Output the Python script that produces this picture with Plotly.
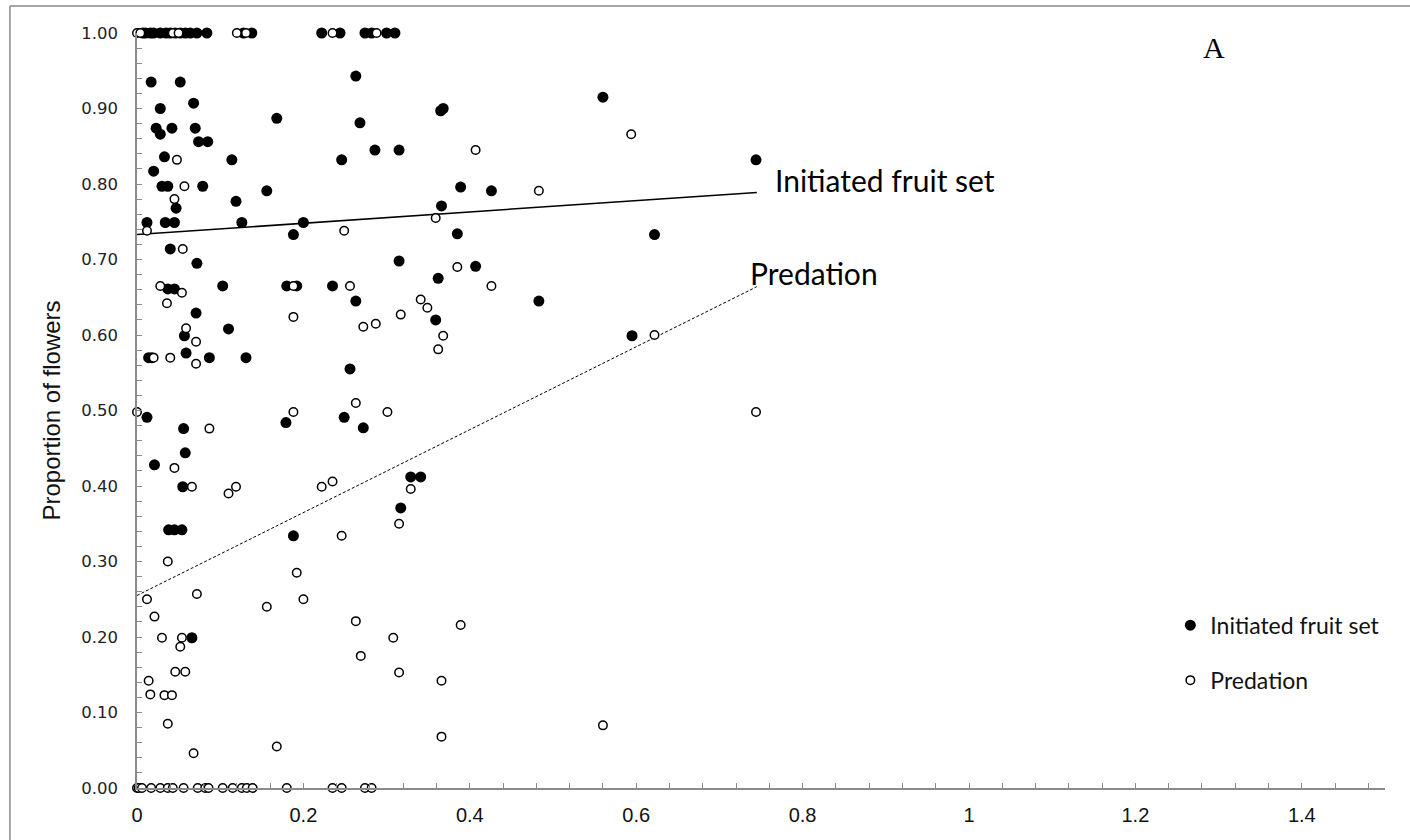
import plotly.graph_objects as go

# ---------------- data ----------------
fruit_x = [0.007, 0.010, 0.016, 0.020, 0.028, 0.035, 0.040, 0.046, 0.052, 0.058, 0.064, 0.072, 0.084,
           0.128, 0.138, 0.222, 0.244, 0.274, 0.282, 0.300, 0.310,
           0.017, 0.052, 0.028, 0.068, 0.023, 0.028, 0.042, 0.070, 0.074, 0.085, 0.033, 0.020,
           0.030, 0.037, 0.079, 0.047, 0.012, 0.034, 0.045, 0.126, 0.200, 0.188, 0.040, 0.072,
           0.114, 0.119, 0.156, 0.168, 0.263, 0.268, 0.246, 0.286, 0.315, 0.365, 0.368, 0.389,
           0.426, 0.366, 0.385, 0.315, 0.407, 0.362,
           0.560, 0.744, 0.622, 0.483, 0.595,
           0.037, 0.045, 0.103, 0.180, 0.192, 0.235, 0.263, 0.071, 0.110, 0.057, 0.359,
           0.014, 0.018, 0.059, 0.087, 0.131, 0.256, 0.012, 0.179, 0.249, 0.272, 0.056, 0.058,
           0.021, 0.055, 0.329, 0.341, 0.317, 0.038, 0.045, 0.054, 0.188, 0.066]
fruit_y = [1.0, 1.0, 1.0, 1.0, 1.0, 1.0, 1.0, 1.0, 1.0, 1.0, 1.0, 1.0, 1.0,
           1.0, 1.0, 1.0, 1.0, 1.0, 1.0, 1.0, 1.0,
           0.935, 0.935, 0.900, 0.907, 0.874, 0.866, 0.874, 0.874, 0.856, 0.856, 0.836, 0.817,
           0.797, 0.797, 0.797, 0.768, 0.749, 0.749, 0.749, 0.749, 0.749, 0.733, 0.714, 0.695,
           0.832, 0.777, 0.791, 0.887, 0.943, 0.881, 0.832, 0.845, 0.845, 0.897, 0.900, 0.796,
           0.791, 0.771, 0.734, 0.698, 0.691, 0.675,
           0.915, 0.832, 0.733, 0.645, 0.599,
           0.661, 0.661, 0.665, 0.665, 0.665, 0.665, 0.645, 0.629, 0.608, 0.599, 0.620,
           0.570, 0.570, 0.576, 0.570, 0.570, 0.555, 0.491, 0.484, 0.491, 0.477, 0.476, 0.444,
           0.428, 0.399, 0.412, 0.412, 0.371, 0.342, 0.342, 0.342, 0.334, 0.199]

pred_x = [0.000, 0.004, 0.043, 0.050, 0.120, 0.131, 0.235, 0.288,
          0.048, 0.057, 0.045, 0.012, 0.055, 0.249, 0.359, 0.407, 0.385,
          0.594, 0.483, 0.622, 0.744, 0.560,
          0.028, 0.054, 0.036, 0.188, 0.256, 0.188, 0.059, 0.071, 0.040, 0.020, 0.071,
          0.272, 0.287, 0.317, 0.341, 0.349, 0.426, 0.368, 0.362,
          0.000, 0.188, 0.263, 0.301, 0.087, 0.045, 0.066, 0.119, 0.110, 0.222, 0.235,
          0.329, 0.315, 0.246,
          0.037, 0.012, 0.072, 0.021, 0.030, 0.054, 0.052, 0.046, 0.058, 0.014, 0.016,
          0.033, 0.042, 0.037, 0.068, 0.156, 0.168, 0.192, 0.200, 0.263, 0.269, 0.308,
          0.315, 0.366, 0.366, 0.389,
          0.000, 0.002, 0.006, 0.017, 0.028, 0.037, 0.043, 0.056, 0.073, 0.082, 0.086,
          0.103, 0.115, 0.126, 0.132, 0.139, 0.180, 0.235, 0.246, 0.274, 0.282]
pred_y = [1.0, 1.0, 1.0, 1.0, 1.0, 1.0, 1.0, 1.0,
          0.832, 0.797, 0.780, 0.738, 0.714, 0.738, 0.755, 0.845, 0.690,
          0.866, 0.791, 0.600, 0.498, 0.083,
          0.665, 0.656, 0.642, 0.665, 0.665, 0.624, 0.609, 0.591, 0.570, 0.570, 0.562,
          0.611, 0.615, 0.627, 0.647, 0.636, 0.665, 0.599, 0.581,
          0.498, 0.498, 0.510, 0.498, 0.476, 0.424, 0.399, 0.399, 0.390, 0.399, 0.406,
          0.396, 0.350, 0.334,
          0.300, 0.250, 0.257, 0.227, 0.199, 0.199, 0.187, 0.154, 0.154, 0.142, 0.124,
          0.123, 0.123, 0.085, 0.046, 0.240, 0.055, 0.285, 0.250, 0.221, 0.175, 0.199,
          0.153, 0.142, 0.068, 0.216,
          0.0, 0.0, 0.0, 0.0, 0.0, 0.0, 0.0, 0.0, 0.0, 0.0, 0.0,
          0.0, 0.0, 0.0, 0.0, 0.0, 0.0, 0.0, 0.0, 0.0, 0.0]

series_names = ["Initiated fruit set", "Predation"]
trend_intercept = [0.733, 0.255]
trend_slope = [0.075, 0.549]
trend_xmax = 0.745

x_ticks = [0, 0.2, 0.4, 0.6, 0.8, 1, 1.2, 1.4]
x_tick_text = ["0", "0.2", "0.4", "0.6", "0.8", "1", "1.2", "1.4"]
y_ticks = [0.0, 0.1, 0.2, 0.3, 0.4, 0.5, 0.6, 0.7, 0.8, 0.9, 1.0]
y_tick_text = ["0.00", "0.10", "0.20", "0.30", "0.40", "0.50", "0.60", "0.70", "0.80", "0.90", "1.00"]

# ---------------- figure ----------------
AX = "#8a8a8a"
NARROW = "Liberation Sans Narrow, Arial Narrow, Liberation Sans, sans-serif"
fig = go.Figure()

fig.add_trace(go.Scatter(
    x=fruit_x, y=fruit_y, mode="markers", name=series_names[0],
    legendgroup="a",
    marker=dict(symbol="circle", size=11, color="black", line=dict(width=0)),
    cliponaxis=False))

# trend lines
tx = [0, trend_xmax]
fig.add_trace(go.Scatter(
    x=tx, y=[trend_intercept[0] + trend_slope[0] * v for v in tx], mode="lines",
    line=dict(color="black", width=1.5), showlegend=False, hoverinfo="skip"))
fig.add_trace(go.Scatter(
    x=tx, y=[trend_intercept[1] + trend_slope[1] * v for v in tx], mode="lines",
    line=dict(color="black", width=1, dash="3px,2px"), showlegend=False, hoverinfo="skip"))

fig.add_trace(go.Scatter(
    x=pred_x, y=pred_y, mode="markers", name=series_names[1],
    legendgroup="b",
    marker=dict(symbol="circle", size=8.5, color="white", line=dict(width=1.5, color="black")),
    cliponaxis=False))

fig.update_layout(
    width=1410, height=840,
    margin=dict(l=137, r=25, t=33, b=52),
    paper_bgcolor="white", plot_bgcolor="white",
    showlegend=True,
    legend=dict(x=0.828, xanchor="left", y=0.244, yanchor="top",
                font=dict(family="Lato, Liberation Sans, sans-serif", size=23, color="#111"),
                tracegroupgap=22, itemwidth=30, bgcolor="rgba(0,0,0,0)"),
    xaxis=dict(range=[0, 1.5], tickvals=x_ticks, ticktext=x_tick_text,
               showgrid=False, zeroline=False, showline=True, linecolor=AX, linewidth=1.5,
               ticks="inside", ticklen=5, tickcolor=AX, tickwidth=1,
               minor=dict(dtick=0.04, tick0=0, ticks="inside", ticklen=5, tickcolor=AX, tickwidth=1),
               tickfont=dict(family=NARROW, size=20, color="#111"),
               ticklabelstandoff=8),
    yaxis=dict(range=[0, 1.0], tickvals=y_ticks, ticktext=y_tick_text,
               showgrid=False, zeroline=False, showline=True, linecolor=AX, linewidth=1.5,
               ticks="inside", ticklen=5, tickcolor=AX, tickwidth=1,
               minor=dict(dtick=0.02, tick0=0, ticks="inside", ticklen=5, tickcolor=AX, tickwidth=1),
               tickfont=dict(family="DejaVu Sans, Verdana, sans-serif", size=16.5, color="#222"),
               ticklabelstandoff=14,
               title=dict(text="Proportion of flowers",
                          font=dict(family=NARROW, size=24, color="#111"),
                          standoff=14)),
    annotations=[
        dict(x=0.764, y=0.805, xref="x", yref="y", text=series_names[0], showarrow=False,
             xanchor="left", yanchor="middle",
             font=dict(family="Lato, Liberation Sans, sans-serif", size=30, color="black")),
        dict(x=0.734, y=0.682, xref="x", yref="y", text=series_names[1], showarrow=False,
             xanchor="left", yanchor="middle",
             font=dict(family="Lato, Liberation Sans, sans-serif", size=30, color="black")),
        dict(x=1.295, y=0.981, xref="x", yref="y", text="A", showarrow=False,
             xanchor="center", yanchor="middle",
             font=dict(family="Liberation Serif, serif", size=30, color="black")),
    ],
    shapes=[
        dict(type="line", xref="paper", yref="paper", x0=-0.1018, x1=1.03, y0=1.0358, y1=1.0358,
             line=dict(color=AX, width=1.5)),
        dict(type="line", xref="paper", yref="paper", x0=-0.1018, x1=-0.1018, y0=-0.08, y1=1.0358,
             line=dict(color=AX, width=1.5)),
    ],
)

fig.write_html("out.html")
